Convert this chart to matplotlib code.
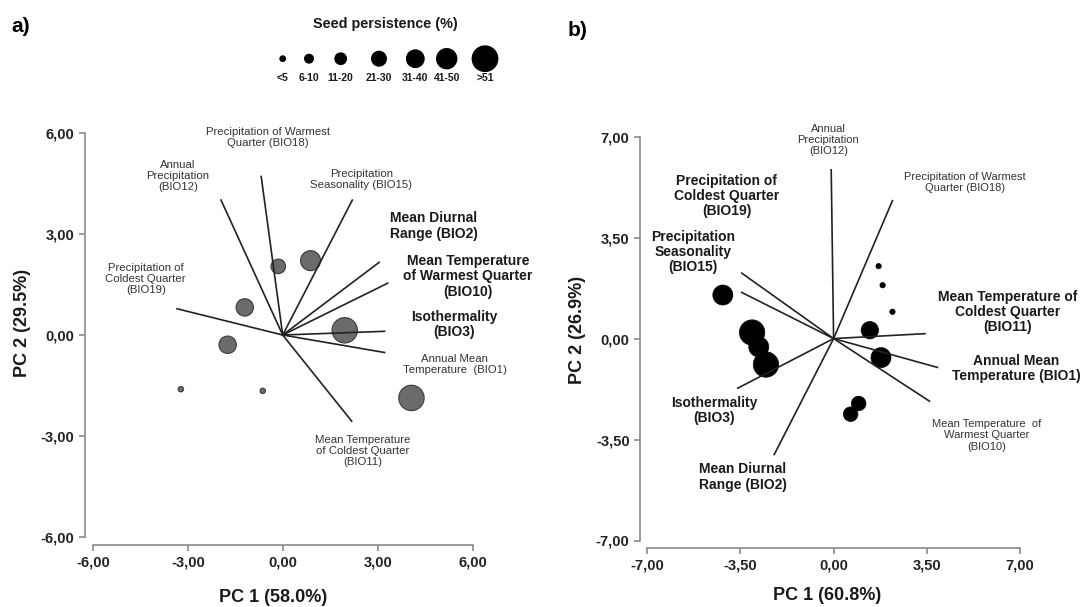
import numpy as np
import matplotlib
matplotlib.use("Agg")
from matplotlib import pyplot as plt

plt.rcParams['font.family'] = ['Liberation Sans', 'DejaVu Sans']

# seed persistence classes
classes = ['<5', '6-10', '11-20', '21-30', '31-40', '41-50', '>51']
class_area = [15, 38, 67, 110, 157, 207, 334]  # marker area (pt^2) per class

# panel a) scores
a_x = [-0.14, 0.88, -1.20, -1.74, 1.96, -3.22, -0.63, 4.07]
a_y = [2.04, 2.21, 0.82, -0.29, 0.14, -1.61, -1.66, -1.87]
a_cls = [3, 5, 4, 4, 6, 0, 0, 6]

# panel a) loadings
a_vx = [-3.34, -1.95, -0.68, 2.20, 3.05, 3.32, 3.22, 3.22, 2.18]
a_vy = [0.78, 4.01, 4.71, 4.01, 2.16, 1.54, 0.11, -0.52, -2.56]
a_lab = ['Precipitation of\nColdest Quarter\n(BIO19)',
         'Annual\nPrecipitation\n(BIO12)',
         'Precipitation of Warmest\nQuarter (BIO18)',
         'Precipitation\nSeasonality (BIO15)',
         'Mean Diurnal\nRange (BIO2)',
         'Mean Temperature\nof Warmest Quarter\n(BIO10)',
         'Isothermality\n(BIO3)',
         'Annual Mean\nTemperature  (BIO1)',
         'Mean Temperature\nof Coldest Quarter\n(BIO11)']
a_lx = [-4.33, -3.31, -0.46, 2.48, 3.38, 5.85, 5.41, 5.43, 2.54]
a_ly = [1.66, 4.73, 5.87, 4.63, 3.24, 1.74, 0.32, -0.87, -3.45]
a_bold = [False, False, False, False, True, True, True, False, False]
a_ha = ['center', 'center', 'center', 'center', 'left', 'center', 'center', 'center', 'center']

# panel b) scores
b_x = [1.69, 1.84, 2.21, 1.36, -4.16, -3.06, -2.81, -2.54, 1.78, 0.94, 0.64]
b_y = [2.51, 1.85, 0.93, 0.29, 1.51, 0.21, -0.29, -0.90, -0.66, -2.25, -2.62]
b_cls = [0, 0, 0, 4, 5, 6, 5, 6, 5, 3, 3]

# panel b) loadings
b_vx = [-0.09, 2.21, -3.45, -3.45, 3.43, 3.90, 3.60, -3.60, -2.23]
b_vy = [5.85, 4.78, 2.27, 1.60, 0.17, -1.00, -2.17, -1.72, -4.02]
b_lab = ['Annual\nPrecipitation\n(BIO12)',
         'Precipitation of Warmest\nQuarter (BIO18)',
         'Precipitation\nSeasonality\n(BIO15)',
         'Precipitation of\nColdest Quarter\n(BIO19)',
         'Mean Temperature of\nColdest Quarter\n(BIO11)',
         'Annual Mean\nTemperature (BIO1)',
         'Mean Temperature  of\nWarmest Quarter\n(BIO10)',
         'Isothermality\n(BIO3)',
         'Mean Diurnal\nRange (BIO2)']
b_lx = [-0.2, 4.92, -5.29, -4.01, 6.55, 6.86, 5.74, -4.49, -3.41]
b_ly = [6.88, 5.41, 2.99, 4.95, 0.91, -1.05, -3.36, -2.49, -4.80]
b_bold = [False, False, True, True, True, True, False, True, True]

W, H = 1091, 607
fig = plt.figure(figsize=(W / 100, H / 100), dpi=100)


def box(l, r, t, b):
    return [l / W, 1 - b / H, (r - l) / W, (b - t) / H]


def style(ax, ticks, lim):
    for s in ['top', 'right']:
        ax.spines[s].set_visible(False)
    for s in ['left', 'bottom']:
        ax.spines[s].set_color('#8a8a8a')
        ax.spines[s].set_linewidth(1.2)
        ax.spines[s].set_bounds(-lim, lim)
    ax.set_xticks(ticks)
    ax.set_yticks(ticks)
    lbl = ['%.2f' % t for t in ticks]
    lbl = [s.replace('.', ',') for s in lbl]
    ax.set_xticklabels(lbl)
    ax.set_yticklabels(lbl)
    ax.tick_params(colors='#8a8a8a', length=4, width=1.2, labelcolor='#222222', labelsize=10.5)
    for t in ax.get_xticklabels() + ax.get_yticklabels():
        t.set_fontweight('bold')


def fig_text(x, y, s, **kw):
    fig.text(x / W, 1 - y / H, s, **kw)


# ---- panel a
ax1 = fig.add_axes(box(85, 482, 123, 545))
ax1.set_xlim(-6.25, 6.3)
ax1.set_ylim(-6.24, 6.3)
style(ax1, [-6, -3, 0, 3, 6], 6)
ax1.scatter(a_x, a_y, s=[class_area[c] for c in a_cls], c='#6b6b6b',
            edgecolors='#3c3c3c', linewidths=0.8, zorder=2)
for vx, vy in zip(a_vx, a_vy):
    ax1.plot([0, vx], [0, vy], color='#222222', lw=1.2, zorder=3)
for s, x, y, bd, ha in zip(a_lab, a_lx, a_ly, a_bold, a_ha):
    if bd:
        ax1.text(x, y, s, ha=ha, va='center', fontsize=10, fontweight='bold',
                 color='#1a1a1a', linespacing=1.1)
    else:
        ax1.text(x, y, s, ha=ha, va='center', fontsize=8.2, color='#333333',
                 linespacing=1.15)

# ---- panel b
ax2 = fig.add_axes(box(640, 1028, 128, 548))
ax2.set_xlim(-7.27, 7.3)
ax2.set_ylim(-7.26, 7.3)
style(ax2, [-7, -3.5, 0, 3.5, 7], 7)
ax2.scatter(b_x, b_y, s=[class_area[c] for c in b_cls], c='black',
            edgecolors='black', linewidths=0.5, zorder=2)
for vx, vy in zip(b_vx, b_vy):
    ax2.plot([0, vx], [0, vy], color='#222222', lw=1.2, zorder=3)
for s, x, y, bd in zip(b_lab, b_lx, b_ly, b_bold):
    if bd:
        ax2.text(x, y, s, ha='center', va='center', fontsize=10, fontweight='bold',
                 color='#1a1a1a', linespacing=1.1)
    else:
        ax2.text(x, y, s, ha='center', va='center', fontsize=8, color='#333333',
                 linespacing=1.15)

# axis titles
lab = dict(fontsize=13, fontweight='bold', color='#1a1a1a', ha='center', va='center')
fig_text(273, 597, 'PC 1 (58.0%)', **lab)
fig_text(23, 323, 'PC 2 (29.5%)', rotation=90, **lab)
fig_text(827, 595, 'PC 1 (60.8%)', **lab)
fig_text(577, 330, 'PC 2 (26.9%)', rotation=90, **lab)

fig_text(21, 27, 'a)', fontsize=15, fontweight='bold', ha='center', va='center')
fig_text(578, 30, 'b)', fontsize=15, fontweight='bold', ha='center', va='center')

# ---- seed persistence key
leg_px = [282.7, 309, 340.7, 379, 415.3, 446.7, 485]
lax = fig.add_axes([0, 0, 1, 1], zorder=-1)
lax.set_xlim(0, W)
lax.set_ylim(H, 0)
lax.axis('off')
lax.scatter(leg_px, [58.7] * len(leg_px), s=class_area, c='black')
for x, s in zip(leg_px, classes):
    lax.text(x, 78, s, ha='center', va='center', fontsize=7.5, fontweight='bold',
             color='#1a1a1a')
lax.text(385, 24, 'Seed persistence (%)', ha='center', va='center', fontsize=10.4,
         fontweight='bold', color='#1a1a1a')

fig.savefig('out.png', dpi=100)
